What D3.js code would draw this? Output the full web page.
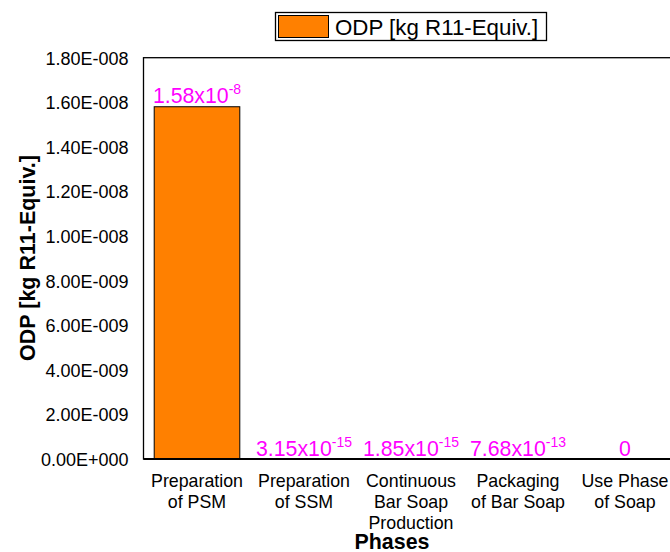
<!DOCTYPE html>
<html><head><meta charset="utf-8">
<script src="https://cdn.jsdelivr.net/npm/d3@7"></script>
<style>body{margin:0;background:#fff;} text{font-family:"Liberation Sans",Arial,sans-serif;}</style>
</head><body>
<svg id="c" width="670" height="552"></svg>
<script>
const categories = [["Preparation","of PSM"],["Preparation","of SSM"],["Continuous","Bar Soap","Production"],["Packaging","of Bar Soap"],["Use Phase","of Soap"]];
const values = [1.58e-8, 3.15e-15, 1.85e-15, 7.68e-13, 0];
const valueLabels = [["1.58x10","-8"],["3.15x10","-15"],["1.85x10","-15"],["7.68x10","-13"],["0",""]];
const yTicks = [0,2e-9,4e-9,6e-9,8e-9,1e-8,1.2e-8,1.4e-8,1.6e-8,1.8e-8];
const yTickLabels = ["0.00E+000","2.00E-009","4.00E-009","6.00E-009","8.00E-009","1.00E-008","1.20E-008","1.40E-008","1.60E-008","1.80E-008"];
const seriesName = "ODP [kg R11-Equiv.]";

const svg = d3.select("#c");
const pL=143.5, pR=678.5, pT=57.7, pB=459;
const x = d3.scaleBand().domain(d3.range(categories.length)).range([pL,pR]).paddingInner(0.2).paddingOuter(0.1);
const y = d3.scaleLinear().domain([0,1.8e-8]).range([pB,pT]);

// frame
svg.append("rect").attr("x",pL).attr("y",pT).attr("width",pR-pL).attr("height",pB-pT)
  .attr("fill","none").attr("stroke","#000").attr("stroke-width",1.3);

// bars
svg.selectAll("rect.bar").data(values).join("rect").attr("class","bar")
  .attr("x",(d,i)=>x(i)).attr("width",x.bandwidth())
  .attr("y",d=>y(d)).attr("height",d=>pB-y(d))
  .attr("fill","#FF8000").attr("stroke","#000").attr("stroke-width",1);

svg.append("line").attr("x1",pL).attr("x2",pR).attr("y1",pB).attr("y2",pB).attr("stroke","#000").attr("stroke-width",2.2);

// y axis
const yAxis = d3.axisLeft(y).tickValues(yTicks).tickFormat((d,i)=>yTickLabels[i]).tickSize(0).tickPadding(15);
const ga = svg.append("g").attr("transform",`translate(${pL},0)`).call(yAxis);
ga.select(".domain").remove();
ga.selectAll("text").attr("font-size",18).attr("fill","#000").attr("dy","0.36em");

// x labels
categories.forEach((lines,i)=>{
  const cx = x(i)+x.bandwidth()/2;
  const t = svg.append("text").attr("x",cx).attr("y",487).attr("text-anchor","middle").attr("font-size",17.8).attr("fill","#000");
  lines.forEach((l,j)=>t.append("tspan").attr("x",cx).attr("dy",j===0?0:21).text(l));
});

// value labels
values.forEach((v,i)=>{
  const t = svg.append("text").attr("x",x(i)+x.bandwidth()/2).attr("y",i===0? y(v)-4 : pB-3)
    .attr("text-anchor","middle").attr("font-size",21.3).attr("fill","#FF00FF");
  t.append("tspan").text(valueLabels[i][0]);
  if(valueLabels[i][1]) t.append("tspan").attr("font-size",14).attr("dy",-9).text(valueLabels[i][1]);
});

// axis titles
svg.append("text").attr("transform","translate(35,258) rotate(-90)").attr("text-anchor","middle")
  .attr("font-size",21.5).attr("font-weight","bold").text("ODP [kg R11-Equiv.]");
svg.append("text").attr("x",392).attr("y",549).attr("text-anchor","middle").attr("font-size",21.4).attr("font-weight","bold").text("Phases");

// legend
svg.append("rect").attr("x",275.5).attr("y",12.5).attr("width",271).attr("height",28).attr("fill","#fff").attr("stroke","#000").attr("stroke-width",1.3);
svg.append("rect").attr("x",278.5).attr("y",15.5).attr("width",50).attr("height",22).attr("fill","#FF8000").attr("stroke","#000");
svg.append("text").attr("x",335).attr("y",35).attr("font-size",22.3).attr("fill","#000").text(seriesName);
</script>
</body></html>
